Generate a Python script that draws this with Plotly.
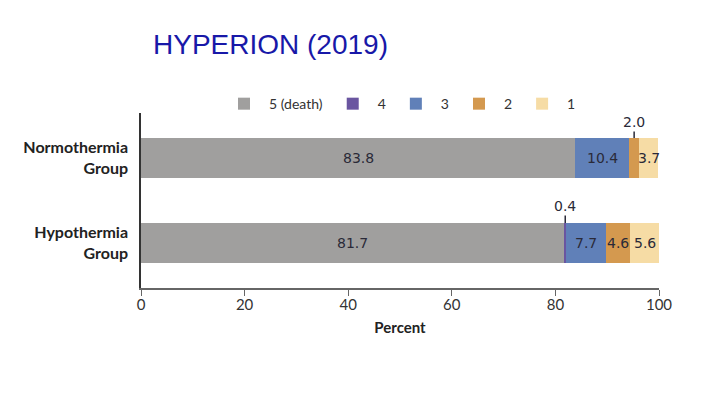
import plotly.graph_objects as go

groups = ["Normothermia<br>Group", "Hypothermia<br>Group"]
categories = ["5 (death)", "4", "3", "2", "1"]
normothermia = [83.8, 0.0, 10.4, 2.0, 3.7]
hypothermia = [81.7, 0.4, 7.7, 4.6, 5.6]
colors = ["#A09F9E", "#6A55A0", "#6080B8", "#D4994F", "#F6DCA5"]
# which values are labelled inside the bar (others are called out above)
inside_norm = [True, False, True, False, True]
inside_hypo = [True, False, True, True, True]

fig = go.Figure()
for i, cat in enumerate(categories):
    vals = [normothermia[i], hypothermia[i]]
    fig.add_trace(go.Bar(
        y=groups, x=vals, name=cat, orientation="h",
        marker=dict(color=colors[i], line=dict(width=0)),
        width=0.47, hoverinfo="skip",
    ))

lab_font = dict(family="DejaVu Sans", size=14, color="#2A2A38")

# in-bar labels, centred on each segment
for gi, (values, inside) in enumerate([(normothermia, inside_norm), (hypothermia, inside_hypo)]):
    for si, v in enumerate(values):
        if not inside[si]:
            continue
        xc = sum(values[:si]) + v / 2
        fig.add_annotation(x=xc, y=gi, xref="x", yref="y", text=f"{v:.1f}",
                           showarrow=False, font=lab_font)

# call-outs for small segments
def callout(group_idx, seg_idx, values, ay):
    start = sum(values[:seg_idx])
    xc = start + values[seg_idx] / 2
    fig.add_annotation(
        x=xc, y=group_idx - 0.235, xref="x", yref="y",
        text=f"{values[seg_idx]:.1f}", showarrow=True, arrowhead=0,
        arrowwidth=1.5, arrowcolor="#2A2A38", ax=0, ay=ay,
        font=lab_font,
    )

callout(0, 3, normothermia, -16)
callout(1, 1, hypothermia, -17)

fig.update_layout(
    width=720, height=405,
    barmode="stack",
    paper_bgcolor="white", plot_bgcolor="white",
    margin=dict(l=133, r=69, t=105, b=125, autoexpand=False),
    title=dict(text="HYPERION (2019)", x=145/720, xanchor="left",
               y=1 - 36/405, yanchor="middle", xref="container", yref="container",
               font=dict(family="Liberation Sans", size=28, color="#1818A8")),
    legend=dict(orientation="h", x=0.5, xanchor="center", y=1.051, yanchor="middle",
                font=dict(family="Lato", size=14, color="#333333"),
                traceorder="normal", itemwidth=40, itemsizing="constant"),
    showlegend=True,
    xaxis=dict(range=[0, 100], tickvals=[0, 20, 40, 60, 80, 100], automargin=False,
               showgrid=False, zeroline=False, showline=True, linecolor="#666666",
               linewidth=1.5, ticks="outside", ticklen=6, tickcolor="#666666",
               ticklabelstandoff=-4,
               tickfont=dict(family="Lato", size=15, color="#333333"),
               title=dict(text="<b>Percent</b>", standoff=11,
                          font=dict(family="Lato", size=15, color="#222222"))),
    yaxis=dict(range=[1.53, -0.53], showgrid=False, zeroline=False, automargin=False,
               showline=True, linecolor="#333333", linewidth=1.5, ticks="",
               ticklabelstandoff=8,
               tickfont=dict(family="Lato", size=16, color="#222222", weight="bold")),
)

fig.write_html("out.html")
